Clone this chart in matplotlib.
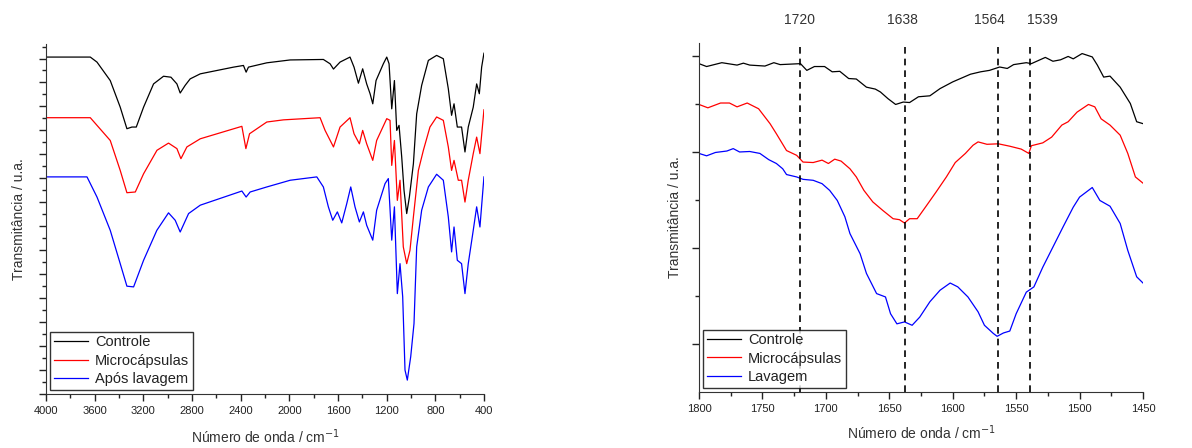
import matplotlib
matplotlib.use('Agg')
import matplotlib.pyplot as plt
from matplotlib.ticker import MultipleLocator, NullFormatter

plt.rcParams['font.family'] = ['Liberation Sans', 'DejaVu Sans']

# ---- espectro completo (4000-400 cm-1) ----
wn_controle = [4000, 3636, 3581, 3472, 3390, 3335, 3294, 3258, 3198, 3116, 3034, 2973,
               2924, 2897, 2856, 2815, 2732, 2459, 2377, 2355, 2336, 2185, 1993, 1720,
               1665, 1637, 1583, 1501, 1468, 1432, 1397, 1364, 1336, 1314, 1287, 1227,
               1199, 1180, 1158, 1136, 1117, 1098, 1076, 1057, 1035, 1013, 980, 953,
               912, 857, 789, 734, 693, 666, 646, 619, 584, 556, 529, 488, 460, 438,
               419, 400]
t_controle = [14.06, 14.06, 13.85, 13.08, 11.97, 11.07, 11.14, 11.14, 11.97, 12.94, 13.26,
              13.22, 12.94, 12.56, 12.88, 13.15, 13.36, 13.64, 13.71, 13.43, 13.64, 13.82,
              13.94, 13.96, 13.78, 13.56, 13.85, 14.06, 13.64, 12.97, 13.57, 12.94, 12.53,
              12.11, 13.08, 13.78, 14.06, 13.78, 11.90, 13.08, 11.00, 11.21, 9.89, 8.50,
              7.53, 8.22, 9.61, 11.69, 12.88, 13.92, 14.13, 13.99, 12.74, 11.63, 12.11,
              11.14, 11.14, 10.10, 11.14, 11.97, 12.94, 12.53, 13.64, 14.22]

wn_micro = [4000, 3636, 3472, 3390, 3335, 3266, 3198, 3088, 2993, 2924, 2891, 2842, 2732,
            2390, 2357, 2327, 2185, 2048, 1747, 1706, 1637, 1583, 1501, 1468, 1424, 1397,
            1364, 1314, 1282, 1199, 1172, 1158, 1136, 1112, 1090, 1063, 1035, 1008, 980,
            939, 898, 844, 789, 734, 693, 666, 646, 611, 584, 556, 529, 488, 460, 433, 400]
t_micro = [11.53, 11.53, 10.58, 9.33, 8.40, 8.43, 9.19, 10.17, 10.47, 10.24, 9.82, 10.31,
           10.65, 11.17, 10.24, 10.86, 11.35, 11.44, 11.53, 11.00, 10.31, 11.14, 11.53,
           10.86, 10.44, 11.00, 10.44, 9.75, 10.58, 11.49, 11.42, 9.54, 10.58, 8.08, 8.92,
           6.14, 5.44, 6.00, 7.39, 9.33, 10.17, 11.14, 11.56, 11.42, 10.31, 9.33, 9.75,
           8.92, 8.92, 8.01, 8.92, 10.03, 10.72, 10.03, 11.86]

wn_lavagem = [4000, 3663, 3581, 3472, 3390, 3335, 3280, 3198, 3089, 2993, 2938, 2897,
              2828, 2732, 2390, 2355, 2322, 2185, 1993, 1774, 1720, 1679, 1643, 1605,
              1569, 1528, 1495, 1460, 1424, 1391, 1364, 1314, 1282, 1213, 1186, 1158,
              1136, 1112, 1090, 1068, 1049, 1030, 1002, 975, 953, 912, 857, 789, 734,
              693, 666, 646, 619, 584, 556, 529, 488, 460, 433, 400]
t_lavagem = [9.06, 9.06, 8.22, 6.83, 5.44, 4.50, 4.47, 5.58, 6.83, 7.56, 7.25, 6.76, 7.53,
             7.88, 8.47, 8.22, 8.43, 8.64, 8.92, 9.06, 8.64, 7.81, 7.25, 7.60, 7.14, 7.94,
             8.64, 7.81, 7.18, 7.60, 7.04, 6.42, 7.67, 8.78, 8.99, 6.42, 7.81, 4.19, 5.44,
             4.06, 1.00, 0.58, 1.56, 2.94, 6.14, 7.67, 8.64, 9.17, 8.92, 7.39, 5.93, 6.97,
             5.58, 5.44, 4.19, 5.44, 6.83, 7.81, 6.97, 9.06]

# ---- ampliacao 1800-1450 cm-1 ----
wz_controle = [1800, 1794, 1782, 1770, 1765, 1760, 1748, 1741, 1736, 1720, 1715, 1709,
               1701, 1695, 1689, 1682, 1676, 1668, 1661, 1657, 1651, 1645, 1639, 1634,
               1627, 1618, 1610, 1600, 1586, 1578, 1571, 1563, 1557, 1552, 1542, 1538,
               1527, 1521, 1515, 1509, 1505, 1498, 1490, 1486, 1481, 1476, 1468, 1460,
               1455, 1450]
tz_controle = [6.84, 6.78, 6.86, 6.81, 6.85, 6.81, 6.79, 6.86, 6.82, 6.84, 6.70, 6.78,
               6.78, 6.67, 6.68, 6.53, 6.52, 6.35, 6.31, 6.25, 6.11, 5.99, 6.04, 6.03,
               6.15, 6.17, 6.32, 6.46, 6.62, 6.67, 6.70, 6.77, 6.74, 6.82, 6.86, 6.84,
               6.97, 6.89, 6.92, 6.99, 6.94, 7.05, 6.98, 6.81, 6.56, 6.58, 6.35, 6.01,
               5.63, 5.59]

wz_micro = [1800, 1793, 1783, 1776, 1770, 1762, 1753, 1744, 1739, 1731, 1723, 1718, 1710,
            1703, 1698, 1693, 1688, 1681, 1676, 1670, 1663, 1655, 1647, 1642, 1638, 1634,
            1628, 1621, 1613, 1605, 1598, 1590, 1584, 1580, 1573, 1564, 1555, 1546, 1540,
            1538, 1529, 1522, 1514, 1509, 1502, 1493, 1488, 1483, 1476, 1468, 1462, 1456,
            1450]
tz_micro = [5.99, 5.92, 6.02, 6.02, 5.94, 6.02, 5.90, 5.59, 5.38, 5.03, 4.93, 4.79, 4.78,
            4.83, 4.76, 4.85, 4.81, 4.65, 4.48, 4.20, 3.96, 3.78, 3.61, 3.59, 3.52, 3.61,
            3.61, 3.87, 4.17, 4.48, 4.78, 4.97, 5.14, 5.21, 5.16, 5.17, 5.12, 5.06, 4.97,
            5.13, 5.19, 5.31, 5.56, 5.63, 5.83, 5.99, 5.94, 5.69, 5.56, 5.35, 4.97, 4.48,
            4.35]

wz_lavagem = [1800, 1794, 1787, 1778, 1773, 1768, 1760, 1752, 1745, 1739, 1734, 1731,
              1723, 1718, 1710, 1703, 1697, 1691, 1685, 1681, 1673, 1668, 1660, 1653,
              1649, 1644, 1638, 1632, 1626, 1618, 1610, 1602, 1596, 1588, 1580, 1575,
              1568, 1565, 1560, 1555, 1550, 1542, 1536, 1529, 1521, 1513, 1505, 1500,
              1490, 1484, 1476, 1468, 1462, 1455, 1450]
tz_lavagem = [4.97, 4.92, 4.99, 5.02, 5.07, 5.00, 5.01, 4.97, 4.84, 4.76, 4.65, 4.53,
              4.48, 4.43, 4.41, 4.34, 4.20, 3.99, 3.65, 3.30, 2.88, 2.47, 2.05, 1.98,
              1.63, 1.42, 1.46, 1.39, 1.56, 1.88, 2.12, 2.27, 2.19, 1.98, 1.67, 1.39,
              1.22, 1.16, 1.23, 1.27, 1.63, 2.08, 2.19, 2.60, 3.02, 3.44, 3.85, 4.06,
              4.26, 3.99, 3.87, 3.51, 2.95, 2.40, 2.27]

picos = [1720, 1638, 1564, 1539]
picos_label_x = [1721, 1640, 1571, 1529]

fig = plt.figure(figsize=(11.92, 4.48), dpi=100)
ax1 = fig.add_axes([0.0386, 0.1205, 0.3674, 0.781])
ax2 = fig.add_axes([0.5864, 0.125, 0.3725, 0.779])

tick_kw = dict(direction='out', colors='#222222', labelsize=8)

# painel esquerdo
ax1.plot(wn_controle, t_controle, color='black', lw=0.9, label='Controle')
ax1.plot(wn_micro, t_micro, color='red', lw=0.9, label='Microcápsulas')
ax1.plot(wn_lavagem, t_lavagem, color='blue', lw=0.9, label='Após lavagem')
ax1.set_xlim(4000, 400)
ax1.set_ylim(0, 14.6)
ax1.xaxis.set_major_locator(MultipleLocator(400))
ax1.xaxis.set_minor_locator(MultipleLocator(200))
ax1.yaxis.set_major_locator(MultipleLocator(1))
ax1.yaxis.set_minor_locator(MultipleLocator(0.5))
ax1.yaxis.set_major_formatter(NullFormatter())
ax1.set_xlabel('Número de onda / cm$^{-1}$', fontsize=10, color='#333333', labelpad=8)
ax1.set_ylabel('Transmitância / u.a.', fontsize=10, color='#333333', labelpad=6)

# painel direito
ax2.plot(wz_controle, tz_controle, color='black', lw=0.9, label='Controle')
ax2.plot(wz_micro, tz_micro, color='red', lw=0.9, label='Microcápsulas')
ax2.plot(wz_lavagem, tz_lavagem, color='blue', lw=0.9, label='Lavagem')
for p, px in zip(picos, picos_label_x):
    ax2.axvline(p, color='black', lw=1.2, ls=(0, (4, 3)))
    ax2.text(px, 1.066, str(p), transform=ax2.get_xaxis_transform(),
             ha='center', va='center', fontsize=10, color='#333333')
ax2.set_xlim(1800, 1450)
ax2.set_ylim(0, 7.27)
ax2.xaxis.set_major_locator(MultipleLocator(50))
ax2.xaxis.set_minor_locator(MultipleLocator(25))
ax2.set_yticks([1, 3, 5, 7])
ax2.set_yticks([2, 4, 6], minor=True)
ax2.yaxis.set_major_formatter(NullFormatter())
ax2.set_xlabel('Número de onda / cm$^{-1}$', fontsize=10, color='#333333', labelpad=7)
ax2.set_ylabel('Transmitância / u.a.', fontsize=10, color='#333333', labelpad=4)

for ax in (ax1, ax2):
    ax.spines['top'].set_visible(False)
    ax.spines['right'].set_visible(False)
    ax.spines['left'].set_color('#333333')
    ax.spines['bottom'].set_color('#333333')
    ax.tick_params(which='major', length=5, width=1, **tick_kw)
    ax.tick_params(which='minor', length=3, width=1, direction='out', colors='#222222')
    leg = ax.legend(loc='lower left', fontsize=10.5, frameon=True, fancybox=False,
                    edgecolor='black', handlelength=2.3, handletextpad=0.5,
                    borderpad=0.25, labelspacing=0.3, borderaxespad=0.3)
    leg.get_frame().set_linewidth(1.0)
    for t in leg.get_texts():
        t.set_color('#222222')

fig.savefig('out.png', dpi=100)
